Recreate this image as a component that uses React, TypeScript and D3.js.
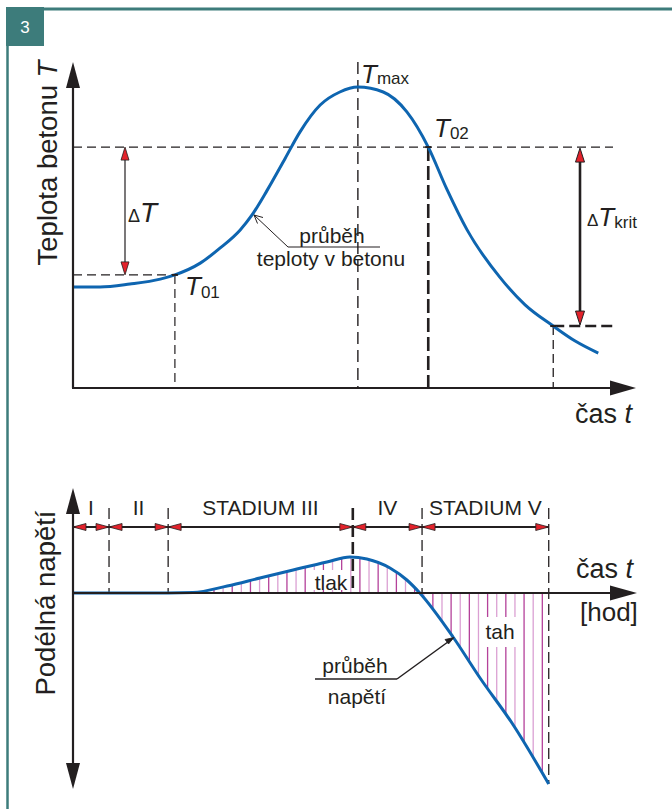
import React from "react";
import * as d3 from "d3";

// ---- DATA ----
// Upper chart: concrete temperature over time (time 0..100, temperature 0..100 relative units)
const tempTime = [0, 4.8, 10.1, 15.5, 18.1, 22.6, 26.1, 29.7, 31.8, 34.5, 37.7, 40.3, 43.9, 47.4, 50.6, 55.1, 59.3, 63.1, 66.4, 70.0, 75.8, 80.3, 85.3, 89.2, 93.3];
const tempValue = [31, 31, 31.9, 33.4, 34.7, 38.3, 42.9, 48.5, 53.1, 60.7, 70.5, 78.5, 86.8, 90.8, 92.3, 90.8, 84.7, 73.9, 61, 48.5, 34, 25.5, 19.0, 14.4, 10.7];
const keyTimes = { t01: 18.1, tmax: 50.6, t02: 63.1, tlow: 85.3 };
const keyTemps = { t01: 34.7, t02: 73.9, tlow: 19.0 };

// Lower chart: longitudinal stress over time
const stressTime = [0, 16.9, 21.3, 27.4, 33.2, 39.1, 45.1, 49.2, 52.2, 56.3, 59.3, 61.6, 67.5, 72.3, 78.2, 84.5];
const stressValue = [0, 0, 0.2, 3.5, 7.5, 11.5, 15.5, 18, 17, 12.5, 6.5, 0, -22, -42.5, -66, -95.5];
const stageBounds = [0, 6.4, 16.9, 49.7, 62.0, 84.5];
const stageLabels = ["I", "II", "STADIUM III", "IV", "STADIUM V"];
const hatchTimes = d3.range(21.8, 84.6, 1.62);

const FONT = "'Liberation Sans', Arial, Helvetica, sans-serif";
const INK = "#231f20";
const BLUE = "#0e65b0";
const RED = "#e3222b";
const TEAL = "#3d7c7b";

function tri(tx: number, ty: number, dir: "up" | "down" | "left" | "right", len: number, hw: number) {
  if (dir === "up") return `M${tx},${ty}L${tx - hw},${ty + len}L${tx + hw},${ty + len}Z`;
  if (dir === "down") return `M${tx},${ty}L${tx - hw},${ty - len}L${tx + hw},${ty - len}Z`;
  if (dir === "left") return `M${tx},${ty}L${tx + len},${ty - hw}L${tx + len},${ty + hw}Z`;
  return `M${tx},${ty}L${tx - len},${ty - hw}L${tx - len},${ty + hw}Z`;
}

export default function App() {
  const x = d3.scaleLinear().domain([0, 100]).range([73, 636]);
  const yT = d3.scaleLinear().domain([0, 100]).range([388, 62]);
  const yS = d3.scaleLinear().domain([-100, 50]).range([793, 493]);

  const tempLine = d3
    .line<number>()
    .x((_, i) => x(tempTime[i]))
    .y((d) => yT(d))
    .curve(d3.curveMonotoneX)(tempValue) as string;

  const stressLine = d3
    .line<number>()
    .x((_, i) => x(stressTime[i]))
    .y((d) => yS(d))
    .curve(d3.curveMonotoneX)(stressValue) as string;

  const stressArea = d3
    .area<number>()
    .x((_, i) => x(stressTime[i]))
    .y0(yS(0))
    .y1((d) => yS(d))
    .curve(d3.curveMonotoneX)(stressValue) as string;

  const axisX0 = 73;
  const topAxisY = yT(0);
  const zeroY = yS(0);
  const stageY = 527;

  const xT01 = x(keyTimes.t01);
  const xTmax = x(keyTimes.tmax);
  const xT02 = x(keyTimes.t02);
  const xTlow = x(keyTimes.tlow);
  const yT01 = yT(keyTemps.t01);
  const yT02 = yT(keyTemps.t02);
  const yTlow = yT(keyTemps.tlow);

  return (
    <svg width={672} height={809} style={{ position: "absolute", left: 0, top: 0, background: "#fff" }} fontFamily={FONT}>
      <defs>
        <clipPath id="hatchClip">
          <path d={stressArea} />
        </clipPath>
      </defs>
      {/* frame */}
      <line x1={7} y1={9} x2={672} y2={9} stroke={TEAL} strokeWidth={3} />
      <line x1={7.5} y1={8} x2={7.5} y2={809} stroke={TEAL} strokeWidth={2.5} />
      <rect x={6} y={7} width={38} height={39} fill={TEAL} />
      <text x={25} y={33} fill="#fff" fontSize={17} textAnchor="middle">3</text>

      {/* ===== UPPER CHART ===== */}
      <g stroke={INK} fill="none">
        <line x1={axisX0} y1={yT02} x2={613} y2={yT02} strokeWidth={1.4} strokeDasharray="9,5" />
        <line x1={axisX0} y1={yT01} x2={xT01} y2={yT01} strokeWidth={1.4} strokeDasharray="9,5" />
        <line x1={xT01} y1={yT01} x2={xT01} y2={topAxisY} strokeWidth={1.2} strokeDasharray="9,5" />
        <line x1={xTmax} y1={62} x2={xTmax} y2={topAxisY} strokeWidth={1.4} strokeDasharray="12,6" />
        <line x1={xT02} y1={yT02} x2={xT02} y2={topAxisY} strokeWidth={2.6} strokeDasharray="14,5" />
        <line x1={xTlow} y1={yTlow} x2={xTlow} y2={topAxisY} strokeWidth={1.3} strokeDasharray="9,5" />
        <line x1={xTlow} y1={yTlow} x2={613} y2={yTlow} strokeWidth={2.4} strokeDasharray="11,5" />
      </g>
      {/* ΔT dimension */}
      <line x1={125} y1={yT02 + 6} x2={125} y2={yT01 - 6} stroke={INK} strokeWidth={1.2} />
      <path d={tri(125, yT02, "up", 13, 4)} fill={RED} stroke={INK} strokeWidth={0.8} />
      <path d={tri(125, yT01, "down", 13, 4)} fill={RED} stroke={INK} strokeWidth={0.8} />
      <text x={128} y={222} fill={INK} fontSize={18}>Δ<tspan fontSize={28} fontStyle="italic">T</tspan></text>
      {/* ΔTkrit dimension */}
      <line x1={580} y1={yT02 + 6} x2={580} y2={yTlow - 6} stroke={INK} strokeWidth={2.6} />
      <path d={tri(580, yT02 + 1, "up", 14, 4.5)} fill={RED} stroke={INK} strokeWidth={1} />
      <path d={tri(580, yTlow - 1, "down", 14, 4.5)} fill={RED} stroke={INK} strokeWidth={1} />
      <text x={587} y={226} fill={INK} fontSize={17}>Δ<tspan fontSize={26} fontStyle="italic">T</tspan><tspan fontSize={17} dy={2}>krit</tspan></text>

      {/* temperature curve */}
      <path d={tempLine} fill="none" stroke={BLUE} strokeWidth={3} />
      <path d={`M${xT01 - 3},${yT01}h6`} stroke={INK} strokeWidth={2} />
      <path d={`M${xT02 - 3},${yT02}h6`} stroke={INK} strokeWidth={2} />
      <path d={`M${xTlow - 3},${yTlow}h6`} stroke={INK} strokeWidth={2} />

      {/* labels */}
      <text x={185} y={295} fill={INK} fontSize={26} fontStyle="italic">T<tspan fontSize={17} fontStyle="normal" dy={3}>01</tspan></text>
      <text x={361} y={83} fill={INK} fontSize={26} fontStyle="italic">T<tspan fontSize={17} fontStyle="normal" dy={1}>max</tspan></text>
      <text x={434} y={137} fill={INK} fontSize={26} fontStyle="italic">T<tspan fontSize={17} fontStyle="normal" dy={2}>02</tspan></text>

      {/* leader for temperature curve */}
      <g stroke={INK} fill="none" strokeWidth={1}>
        <line x1={288} y1={247} x2={380} y2={247} />
        <line x1={288} y1={247} x2={254} y2={215} />
        <path d="M254,215 l9,2.5 M254,215 l3.5,8.5" />
      </g>
      <text x={332} y={243} fill={INK} fontSize={21} textAnchor="middle">průběh</text>
      <text x={331} y={266} fill={INK} fontSize={21} textAnchor="middle">teploty v betonu</text>

      {/* axes */}
      <line x1={axisX0} y1={86} x2={axisX0} y2={topAxisY} stroke={INK} strokeWidth={2.2} />
      <path d={tri(axisX0, 62, "up", 26, 7)} fill={INK} />
      <line x1={axisX0 - 1} y1={topAxisY} x2={612} y2={topAxisY} stroke={INK} strokeWidth={2.2} />
      <path d={tri(636, topAxisY, "right", 26, 7.5)} fill={INK} />
      <text transform={`translate(57,163) rotate(-90)`} fill={INK} fontSize={27.5} textAnchor="middle">Teplota betonu <tspan fontStyle="italic">T</tspan></text>
      <text x={575} y={423} fill={INK} fontSize={27}>čas <tspan fontStyle="italic">t</tspan></text>

      {/* ===== LOWER CHART ===== */}
      <g clipPath="url(#hatchClip)">
        {hatchTimes.map((t, i) => (
          <line key={i} x1={x(t)} y1={yS(50)} x2={x(t)} y2={yS(-100)} stroke={i % 2 === 0 ? "#b4419a" : "#dba0d3"} strokeWidth={1.3} />
        ))}
      </g>
      <rect x={312} y={570} width={38} height={20} fill="#fff" />
      <rect x={484} y={617} width={34} height={30} fill="#fff" />
      <text x={331} y={590} fill={INK} fontSize={21} textAnchor="middle">tlak</text>
      <text x={500} y={639} fill={INK} fontSize={21} textAnchor="middle">tah</text>

      {/* stage boundary dashed lines */}
      <g stroke={INK} fill="none">
        {stageBounds.slice(1).map((t, i) => {
          const last = i === stageBounds.length - 2;
          const thick = i === 2;
          return (
            <line
              key={i}
              x1={x(t)}
              y1={508}
              x2={x(t)}
              y2={last ? yS(stressValue[stressValue.length - 1]) : zeroY}
              strokeWidth={thick ? 2.6 : 1.3}
              strokeDasharray={thick ? "12,5" : "11,5"}
            />
          );
        })}
      </g>
      <line x1={axisX0} y1={stageY} x2={x(stageBounds[stageBounds.length - 1])} y2={stageY} stroke={INK} strokeWidth={2.2} />
      {stageBounds.slice(0, -1).map((t, i) => {
        const a = x(t);
        const b = x(stageBounds[i + 1]);
        return (
          <g key={i}>
            <path d={tri(a, stageY, "left", 13, 3.5)} fill={RED} stroke={INK} strokeWidth={0.8} />
            <path d={tri(b, stageY, "right", 13, 3.5)} fill={RED} stroke={INK} strokeWidth={0.8} />
            <text x={(a + b) / 2} y={515} fill={INK} fontSize={21} textAnchor="middle">{stageLabels[i]}</text>
          </g>
        );
      })}

      {/* stress curve */}
      <path d={stressLine} fill="none" stroke={BLUE} strokeWidth={3} />

      {/* leader for stress curve */}
      <g stroke={INK} fill={INK} strokeWidth={1.4}>
        <line x1={315} y1={679} x2={397} y2={679} fill="none" />
        <line x1={397} y1={679} x2={452} y2={639} fill="none" />
        <path d="M454,637.5 l-9,2 l3.5,4.5 Z" strokeWidth={0.8} />
      </g>
      <text x={355} y={673} fill={INK} fontSize={21} textAnchor="middle">průběh</text>
      <text x={357} y={704} fill={INK} fontSize={21} textAnchor="middle">napětí</text>

      {/* axes */}
      <line x1={axisX0} y1={510} x2={axisX0} y2={766} stroke={INK} strokeWidth={2.2} />
      <path d={tri(axisX0, 488, "up", 26, 7)} fill={INK} />
      <path d={tri(axisX0, 789, "down", 26, 7)} fill={INK} />
      <line x1={axisX0 - 1} y1={zeroY} x2={612} y2={zeroY} stroke={INK} strokeWidth={2.2} />
      <path d={tri(637, zeroY, "right", 27, 7.5)} fill={INK} />
      <text transform={`translate(55,603) rotate(-90)`} fill={INK} fontSize={27.5} textAnchor="middle">Podélná napětí</text>
      <text x={576} y={578} fill={INK} fontSize={27}>čas <tspan fontStyle="italic">t</tspan></text>
      <text x={580} y={621} fill={INK} fontSize={26}>[hod]</text>
    </svg>
  );
}
